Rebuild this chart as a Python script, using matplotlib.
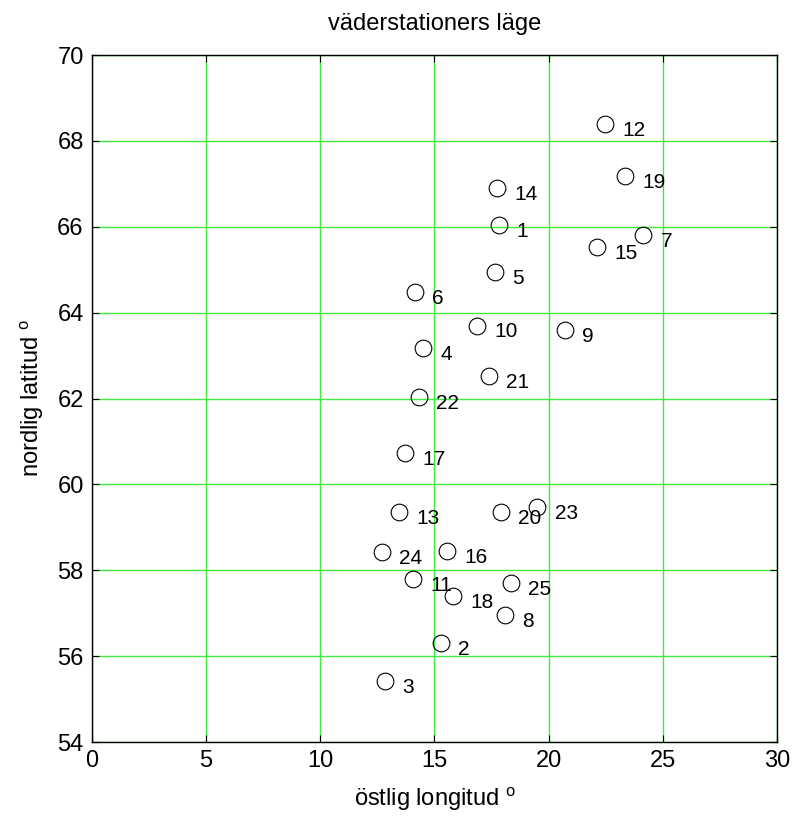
import matplotlib
matplotlib.use('Agg')
import matplotlib.pyplot as plt

plt.rcParams['font.family'] = ['Liberation Sans', 'DejaVu Sans']
plt.rcParams['mathtext.fontset'] = 'custom'
plt.rcParams['mathtext.rm'] = 'Liberation Sans'
plt.rcParams['mathtext.it'] = 'Liberation Sans:italic'

# station numbers and positions (lon, lat)
station_ids = [1, 2, 3, 4, 5, 6, 7, 8, 9, 10, 11, 12, 13,
               14, 15, 16, 17, 18, 19, 20, 21, 22, 23, 24, 25]
lon = [17.84, 15.29, 12.83, 14.51, 17.65, 14.15, 24.15, 18.09, 20.72, 16.88,
       14.07, 22.47, 13.46, 17.75, 22.13, 15.56, 13.71, 15.83, 23.35, 17.92,
       17.39, 14.32, 19.51, 12.69, 18.35]
lat = [66.03, 56.30, 55.41, 63.18, 64.95, 64.49, 65.81, 56.96, 63.60, 63.70,
       57.79, 68.39, 59.36, 66.91, 65.52, 58.45, 60.72, 57.41, 67.18, 59.36,
       62.52, 62.03, 59.48, 58.43, 57.70]

fig = plt.figure(figsize=(7.95, 8.21), dpi=100)
ax = fig.add_axes([0.1157, 0.0962, 0.8616, 0.8368])

ax.plot(lon, lat, 'o', markersize=12, markerfacecolor='none',
        markeredgecolor='black', markeredgewidth=0.8, zorder=3)

# number labels a bit right of and below each circle
for sid, x, y in zip(station_ids, lon, lat):
    ax.text(x + 0.75, y - 0.15, str(sid), fontsize=15, ha='left', va='center')

ax.set_xlim(0, 30)
ax.set_ylim(54, 70)
ax.set_xticks(range(0, 31, 5))
ax.set_yticks(range(54, 71, 2))
ax.grid(True, color='#40e840', linewidth=1.0)
ax.set_axisbelow(True)
ax.tick_params(direction='in', length=5, labelsize=17, top=True, right=True,
               pad=6)
for sp in ax.spines.values():
    sp.set_linewidth(1.0)

ax.set_title('väderstationers läge', fontsize=17, pad=18)
ax.set_xlabel('östlig longitud $^{\\rm o}$', fontsize=17, labelpad=10)
ax.set_ylabel('nordlig latitud $^{\\rm o}$', fontsize=17, labelpad=8)

plt.savefig('out.png', dpi=100)
plt.close()
